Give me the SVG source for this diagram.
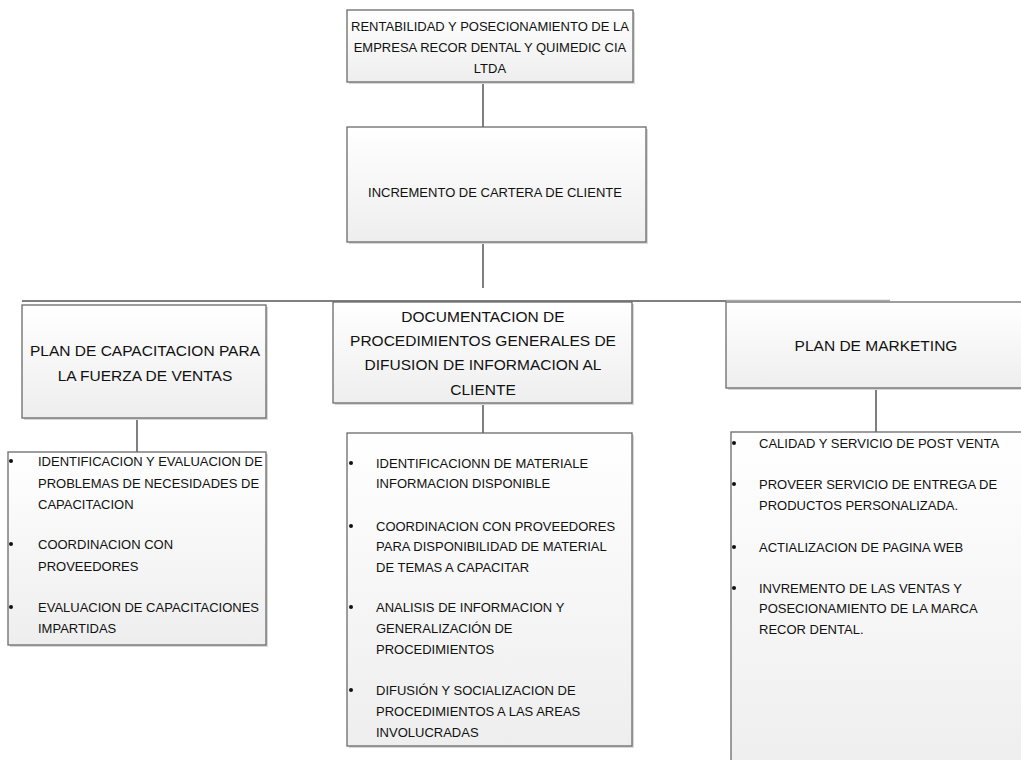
<svg xmlns="http://www.w3.org/2000/svg" width="1021" height="760" viewBox="0 0 1021 760">
<style>
.box{fill:url(#g);stroke:#6a6a6a;stroke-width:1.3}
.sh{fill:#d8d8d8}
.t{font-family:"Liberation Sans",Arial,sans-serif;font-size:13px;fill:#111}
.h{font-family:"Liberation Sans",Arial,sans-serif;font-size:15.5px;fill:#111}
.c{text-anchor:middle}
.con{stroke:#555;stroke-width:1.5;fill:none}
.dot{fill:#111}
</style>
<defs>
<linearGradient id="g" x1="0" y1="0" x2="0" y2="1">
<stop offset="0" stop-color="#ffffff"/>
<stop offset="1" stop-color="#eeeeee"/>
</linearGradient>
</defs>
<g id="connectors">
<line class="con" x1="483" y1="82" x2="483" y2="127"/>
<line class="con" x1="483" y1="242" x2="483" y2="288"/>
<line class="con" x1="22" y1="301" x2="726" y2="301"/>
<line x1="726" y1="300.5" x2="890" y2="300.5" stroke="#aaa" stroke-width="1.5"/>
<line class="con" x1="137" y1="418" x2="137" y2="452"/>
<line class="con" x1="483" y1="403" x2="483" y2="433"/>
<line class="con" x1="876" y1="388" x2="876" y2="432"/>
</g>
<g id="n1">
<rect class="sh" x="349" y="12" width="286" height="72"/>
<rect class="box" x="347" y="10" width="286" height="72"/>
<text class="t c" x="490" y="31">RENTABILIDAD Y POSECIONAMIENTO DE LA</text>
<text class="t c" x="490" y="52">EMPRESA RECOR DENTAL Y QUIMEDIC CIA</text>
<text class="t c" x="490" y="73">LTDA</text>
</g>
<g id="n2">
<rect class="sh" x="349" y="129" width="299" height="115"/>
<rect class="box" x="347" y="127" width="299" height="115"/>
<text class="t c" x="495" y="197">INCREMENTO DE CARTERA DE CLIENTE</text>
</g>
<g id="n3">
<rect class="sh" x="24" y="307" width="244" height="113"/>
<rect class="box" x="22" y="305" width="244" height="113"/>
<text class="h c" x="145" y="355.5">PLAN DE CAPACITACION PARA</text>
<text class="h c" x="145" y="380.5">LA FUERZA DE VENTAS</text>
</g>
<g id="n4">
<rect class="sh" x="335" y="304" width="299" height="101"/>
<rect class="box" x="333" y="302" width="299" height="101"/>
<text class="h c" x="483" y="321.5">DOCUMENTACION DE</text>
<text class="h c" x="483" y="345.5">PROCEDIMIENTOS GENERALES DE</text>
<text class="h c" x="483" y="370">DIFUSION DE INFORMACION AL</text>
<text class="h c" x="483" y="394.5">CLIENTE</text>
</g>
<g id="n5">
<rect class="sh" x="728" y="304" width="300" height="86"/>
<rect class="box" x="726" y="302" width="300" height="86"/>
<text class="h c" x="876" y="350.5">PLAN DE MARKETING</text>
</g>
<g id="n6">
<rect class="sh" x="10" y="454" width="258" height="193"/>
<rect class="box" x="8" y="452" width="258" height="193"/>
<circle class="dot" cx="11" cy="461" r="2"/>
<text class="t" x="38" y="465.5">IDENTIFICACION Y EVALUACION DE</text>
<text class="t" x="38" y="487.5">PROBLEMAS DE NECESIDADES DE</text>
<text class="t" x="38" y="508.5">CAPACITACION</text>
<circle class="dot" cx="11" cy="544" r="2"/>
<text class="t" x="38" y="548.5">COORDINACION CON</text>
<text class="t" x="38" y="570.5">PROVEEDORES</text>
<circle class="dot" cx="11" cy="607" r="2"/>
<text class="t" x="38" y="611.5">EVALUACION DE CAPACITACIONES</text>
<text class="t" x="38" y="632.5">IMPARTIDAS</text>
</g>
<g id="n7">
<rect class="sh" x="349" y="435" width="285" height="313"/>
<rect class="box" x="347" y="433" width="285" height="313"/>
<circle class="dot" cx="351" cy="463" r="2"/>
<text class="t" x="376" y="467.5">IDENTIFICACIONN DE MATERIALE</text>
<text class="t" x="376" y="487.5">INFORMACION DISPONIBLE</text>
<circle class="dot" cx="351" cy="526" r="2"/>
<text class="t" x="376" y="530.5">COORDINACION CON PROVEEDORES</text>
<text class="t" x="376" y="550.5">PARA DISPONIBILIDAD DE MATERIAL</text>
<text class="t" x="376" y="571.5">DE TEMAS A CAPACITAR</text>
<circle class="dot" cx="351" cy="607" r="2"/>
<text class="t" x="376" y="611.5">ANALISIS DE INFORMACION Y</text>
<text class="t" x="376" y="632.5">GENERALIZACIÓN DE</text>
<text class="t" x="376" y="653.5">PROCEDIMIENTOS</text>
<circle class="dot" cx="351" cy="690" r="2"/>
<text class="t" x="376" y="694.5">DIFUSIÓN Y SOCIALIZACION DE</text>
<text class="t" x="376" y="715.5">PROCEDIMIENTOS A LAS AREAS</text>
<text class="t" x="376" y="736.5">INVOLUCRADAS</text>
</g>
<g id="n8">
<rect class="sh" x="733" y="434" width="300" height="340"/>
<rect class="box" x="731" y="432" width="300" height="340"/>
<circle class="dot" cx="734" cy="443" r="2"/>
<text class="t" x="759" y="447.5">CALIDAD Y SERVICIO DE POST VENTA</text>
<circle class="dot" cx="734" cy="484" r="2"/>
<text class="t" x="759" y="488.5">PROVEER SERVICIO DE ENTREGA DE</text>
<text class="t" x="759" y="509.5">PRODUCTOS PERSONALIZADA.</text>
<circle class="dot" cx="734" cy="547" r="2"/>
<text class="t" x="759" y="551.5">ACTIALIZACION DE PAGINA WEB</text>
<circle class="dot" cx="734" cy="588" r="2"/>
<text class="t" x="759" y="592.5">INVREMENTO DE LAS VENTAS Y</text>
<text class="t" x="759" y="612.5">POSECIONAMIENTO DE LA MARCA</text>
<text class="t" x="759" y="633.5">RECOR DENTAL.</text>
</g>
</svg>
